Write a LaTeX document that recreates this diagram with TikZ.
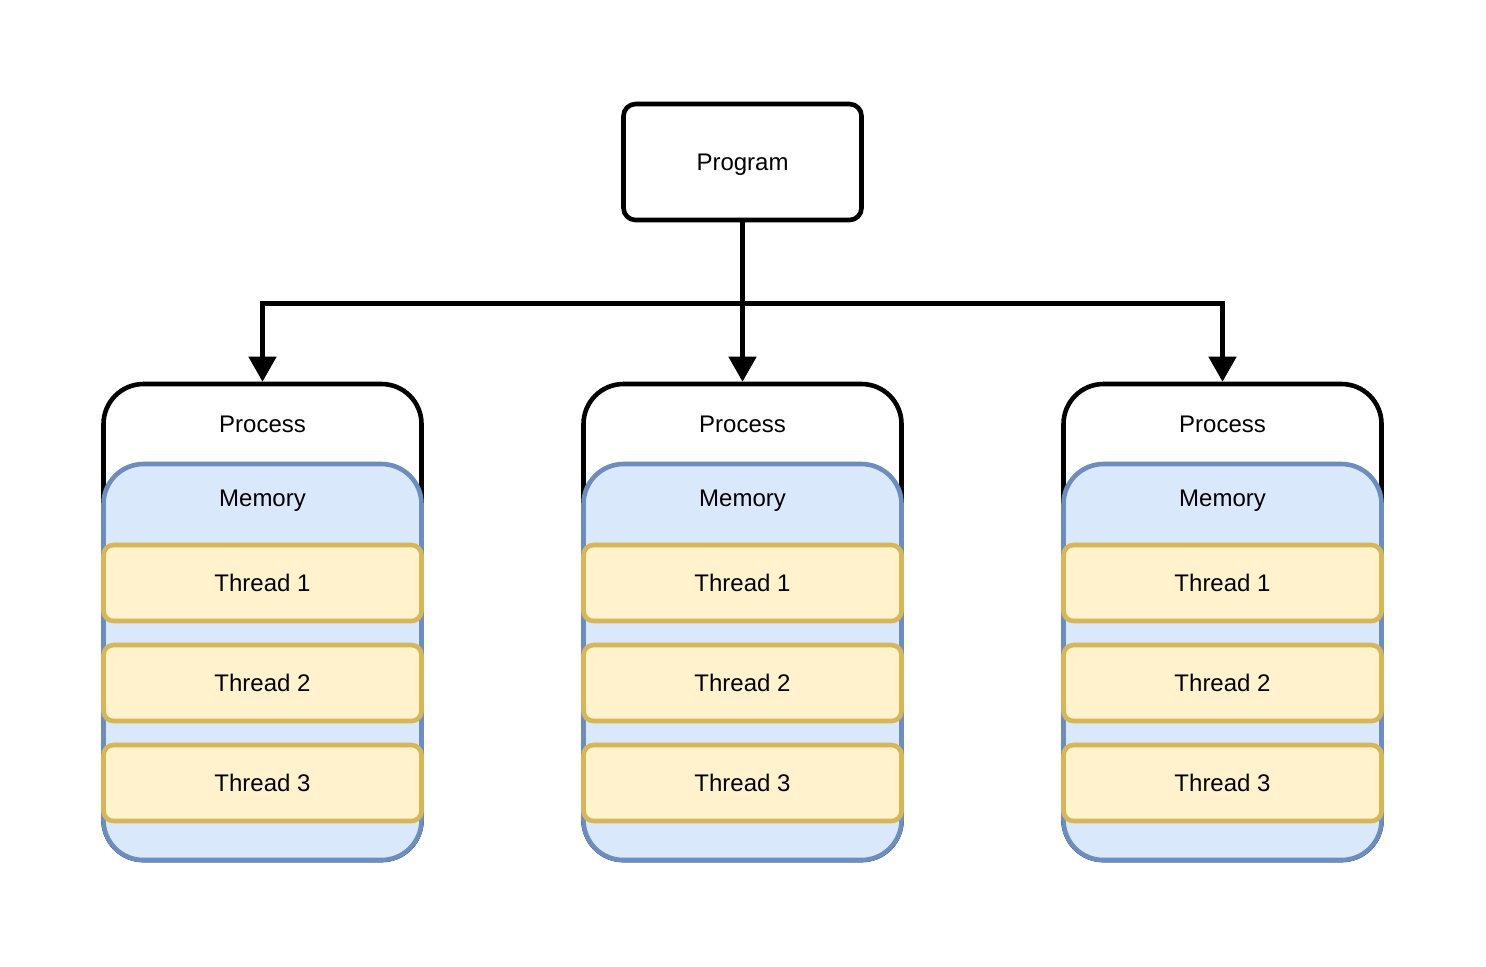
\documentclass[tikz,border=0pt]{standalone}
\usepackage{fontspec}
\setmainfont{Liberation Sans}
\usetikzlibrary{arrows.meta}
\definecolor{memfill}{HTML}{DAE8FC}
\definecolor{memdraw}{HTML}{6C8EBF}
\definecolor{thrfill}{HTML}{FFF2CC}
\definecolor{thrdraw}{HTML}{D6B656}
\tikzset{
  base/.style={line width=2.3pt, font=\fontsize{12}{14}\selectfont, inner sep=0pt},
  progbox/.style={base, draw=black, fill=white, rounded corners=6pt, minimum width=119pt, minimum height=58pt},
  procbox/.style={base, draw=black, fill=white, rounded corners=20pt, minimum width=159pt, minimum height=238pt},
  membox/.style={base, draw=memdraw, fill=memfill, rounded corners=20pt, minimum width=159pt, minimum height=198pt},
  thrbox/.style={base, draw=thrdraw, fill=thrfill, rounded corners=5pt, minimum width=159pt, minimum height=38pt},
  lbl/.style={font=\fontsize{12}{14}\selectfont, inner sep=0pt},
  conn/.style={line width=2.3pt, -{Triangle[length=12.5pt,width=13.5pt]}}
}
\begin{document}
\begin{tikzpicture}[x=0.5pt,y=-0.5pt]
\useasboundingbox (0,0) rectangle (1486,966);
\node[progbox] (prog) at (742.5,162) {};
\node[lbl] (progl) at (742.5,165) {Program};
\foreach \i/\cx in {1/262.5,2/742.5,3/1222.5}{
  \node[procbox] (p\i) at (\cx,622) {};
  \node[lbl] (pl\i) at (\cx,424) {Process};
  \node[membox] (m\i) at (\cx,662) {};
  \node[lbl] (ml\i) at (\cx,501) {Memory};
  \node[thrbox] (t\i a) at (\cx,583) {Thread 1};
  \node[thrbox] (t\i b) at (\cx,683) {Thread 2};
  \node[thrbox] (t\i c) at (\cx,783) {Thread 3};
}
\draw[conn] (prog.south) -- ++(0,-40.5pt) -| (p1.north);
\draw[conn] (prog.south) -- ++(0,-40.5pt) -| (p3.north);
\draw[conn] (prog.south) -- (p2.north);
\end{tikzpicture}
\end{document}
